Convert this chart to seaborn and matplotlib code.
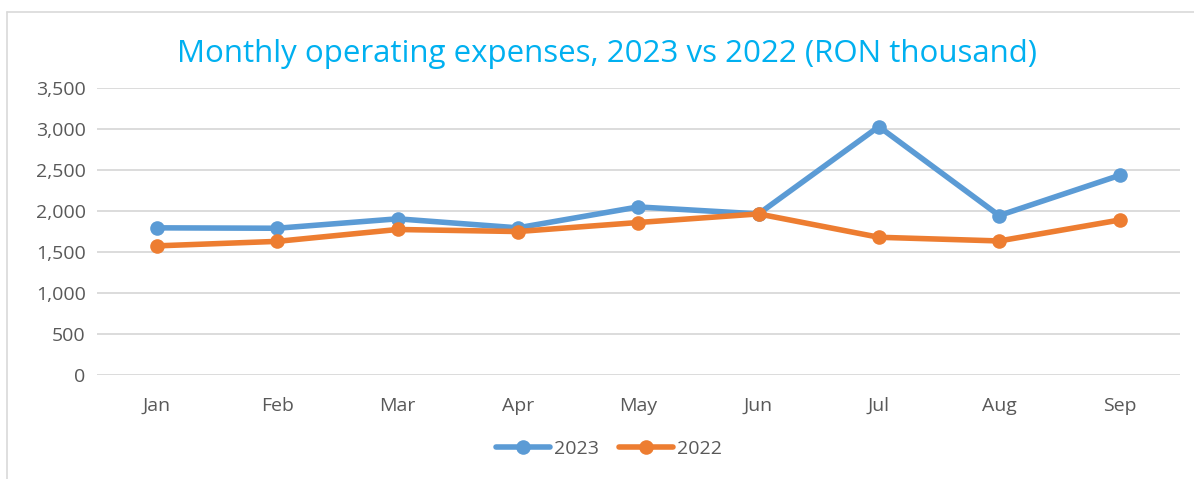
import pandas as pd
import matplotlib.pyplot as plt
import matplotlib.ticker as mticker
from matplotlib.lines import Line2D
import seaborn as sns

# chart data
months = ["Jan", "Feb", "Mar", "Apr", "May", "Jun", "Jul", "Aug", "Sep"]
expenses_2023 = [1790, 1785, 1900, 1790, 2045, 1960, 3025, 1940, 2430]
expenses_2022 = [1570, 1625, 1770, 1745, 1855, 1960, 1675, 1630, 1885]
series_names = ["2023", "2022"]
colors = {"2023": "#5B9BD5", "2022": "#ED7D31"}

df = pd.DataFrame(
    {
        "Month": months * 2,
        "Value": expenses_2023 + expenses_2022,
        "Year": [series_names[0]] * len(months) + [series_names[1]] * len(months),
    }
)
df["Pos"] = df["Month"].map({m: i for i, m in enumerate(months)})

sns.set_style("white")
plt.rcParams["font.family"] = ["Open Sans", "DejaVu Sans"]

fig = plt.figure(figsize=(11.94, 4.79), dpi=100)
ax = fig.add_axes([0.081, 0.218, 0.907, 0.599])

sns.lineplot(
    data=df,
    x="Pos",
    y="Value",
    hue="Year",
    hue_order=series_names,
    palette=colors,
    marker="o",
    markersize=10.5,
    markeredgewidth=0,
    linewidth=4,
    legend=False,
    ax=ax,
)

ax.set_xlim(-0.5, len(months) - 0.5)
ax.set_ylim(0, 3500)
ax.set_xticks(range(len(months)))
ax.set_xticklabels(months)
ax.set_yticks(range(0, 3501, 500))
ax.yaxis.set_major_formatter(mticker.FuncFormatter(lambda v, _: f"{v:,.0f}"))
ax.tick_params(axis="both", length=0, labelsize=14, labelcolor="#595959")
ax.tick_params(axis="x", pad=16)
ax.tick_params(axis="y", pad=8)
ax.set_xlabel("")
ax.set_ylabel("")
ax.grid(axis="y", color="#D9D9D9", linewidth=1.3)
ax.set_axisbelow(True)
for s in ax.spines.values():
    s.set_visible(False)

fig.text(
    0.508, 0.887,
    "Monthly operating expenses, 2023 vs 2022 (RON thousand)",
    ha="center", va="center", fontsize=22.5, color="#00B0F0",
)

handles = [
    Line2D([0], [0], color=colors[n], lw=4, marker="o", markersize=10.5,
           markeredgewidth=0)
    for n in series_names
]
fig.legend(
    handles, series_names, loc="center", bbox_to_anchor=(0.51, 0.062),
    ncol=2, frameon=False, fontsize=14, labelcolor="#595959",
    handlelength=2.8, handletextpad=0.2, columnspacing=1.0,
)

# chart-area frame (left and top edges visible)
fig.add_artist(Line2D([0.006, 0.006], [0.0, 0.975], color="#D9D9D9", lw=1.2))
fig.add_artist(Line2D([0.006, 1.0], [0.975, 0.975], color="#D9D9D9", lw=1.2))

fig.savefig("out.png", dpi=100)
